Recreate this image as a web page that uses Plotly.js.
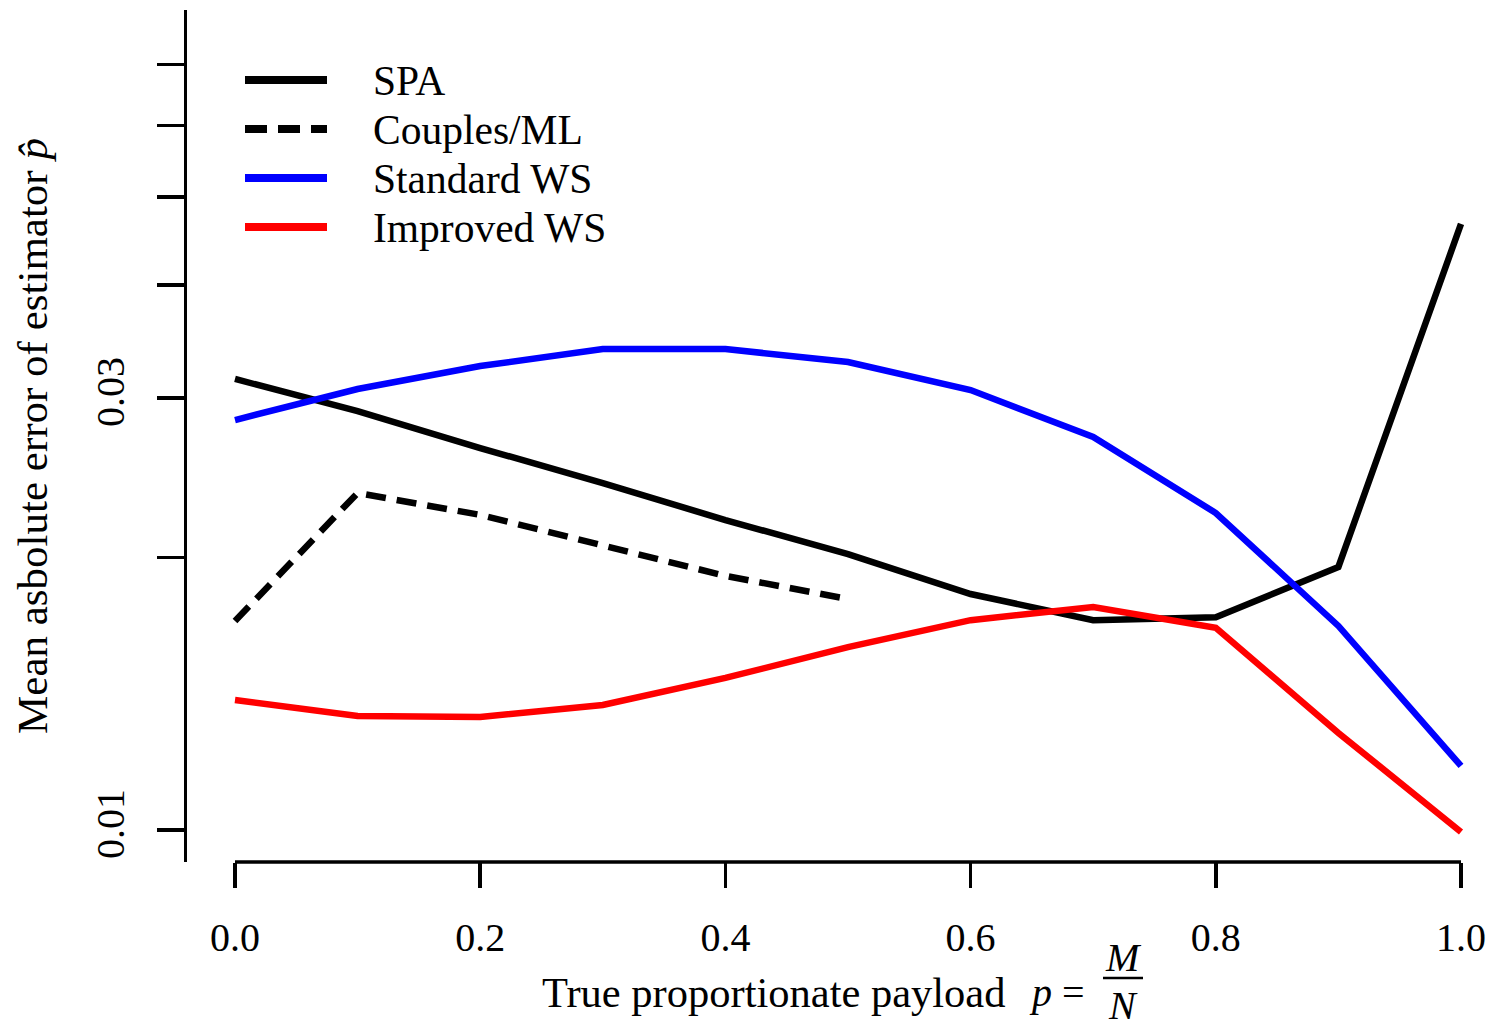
<!DOCTYPE html>
<html>
<head>
<meta charset="utf-8">
<script src="https://cdn.plot.ly/plotly-3.0.1.min.js"></script>
<style>html,body{margin:0;padding:0;background:#fff;}#chart{width:1491px;height:1027px;}</style>
</head>
<body>
<div id="chart"></div>
<script>
// ---- data ----
const payload = [0.0, 0.1, 0.2, 0.3, 0.4, 0.5, 0.6, 0.7, 0.8, 0.9, 1.0];
const payloadCouples = [0.0, 0.1, 0.2, 0.3, 0.4, 0.5];
const spa = [0.03148, 0.02901, 0.02641, 0.02416, 0.02199, 0.02017, 0.01822, 0.01705, 0.01718, 0.01952, 0.04669];
const couplesML = [0.01701, 0.02356, 0.02228, 0.02064, 0.01908, 0.01799];
const standardWS = [0.02836, 0.03069, 0.03253, 0.03397, 0.03397, 0.03287, 0.03061, 0.02716, 0.02239, 0.01680, 0.01177];
const improvedWS = [0.01392, 0.01336, 0.01333, 0.01374, 0.01472, 0.01592, 0.01705, 0.01763, 0.01672, 0.01280, 0.00995];
const seriesNames = ['SPA', 'Couples/ML', 'Standard WS', 'Improved WS'];
const xTickVals = [0.0, 0.2, 0.4, 0.6, 0.8, 1.0];
const xTickText = ['0.0', '0.2', '0.4', '0.6', '0.8', '1.0'];
const yTickVals = [0.01, 0.02, 0.03, 0.04, 0.05, 0.06, 0.07];
const yTickText = ['0.01', '', '0.03', '', '', '', ''];

// ---- styles ----
const FONT = 'Liberation Serif, Times New Roman, serif';
const styles = [
  {color: '#000000', dash: 'solid'},
  {color: '#000000', dash: '20px,11px'},
  {color: '#0000FF', dash: 'solid'},
  {color: '#FF0000', dash: 'solid'}
];
const LW = 6.5;
const seriesX = [payload, payloadCouples, payload, payload];
const seriesY = [spa, couplesML, standardWS, improvedWS];

const traces = seriesNames.map((name, i) => ({
  type: 'scatter', mode: 'lines', name: name,
  x: seriesX[i], y: seriesY[i],
  line: {color: styles[i].color, width: LW, dash: styles[i].dash},
  showlegend: false, hoverinfo: 'skip'
}));

// pixel helpers for layout positioning (plot area: x 187..1491, y 10..862)
const W = 1491, H = 1027, L = 187, R = 0, T = 10, B = 165;
const pw = W - L - R, ph = H - T - B;
const px = (x) => (x - L) / pw;
const py = (y) => (H - B - y) / ph;

const shapes = [
  // detached x axis line between first and last ticks
  {type: 'line', xref: 'x', yref: 'paper', x0: xTickVals[0], x1: xTickVals[xTickVals.length - 1], y0: 0, y1: 0,
   line: {color: '#000', width: 3.5}},
  // fraction bar in x title
  {type: 'line', xref: 'paper', yref: 'paper', x0: px(1103), x1: px(1143), y0: py(978), y1: py(978),
   line: {color: '#000', width: 2.5}}
];
const annotations = [
  {xref: 'paper', yref: 'paper', x: px(1007), y: py(992), xanchor: 'right', yanchor: 'middle', showarrow: false,
   text: 'True proportionate payload', font: {family: FONT, size: 42.5, color: '#000'}},
  {xref: 'paper', yref: 'paper', x: px(1027), y: py(992), xanchor: 'left', yanchor: 'middle', showarrow: false,
   text: '<i>p</i> =', font: {family: FONT, size: 40, color: '#000'}},
  {xref: 'paper', yref: 'paper', x: px(1123), y: py(957), xanchor: 'center', yanchor: 'middle', showarrow: false,
   text: '<i>M</i>', font: {family: FONT, size: 40, color: '#000'}},
  {xref: 'paper', yref: 'paper', x: px(1123), y: py(1005), xanchor: 'center', yanchor: 'middle', showarrow: false,
   text: '<i>N</i>', font: {family: FONT, size: 40, color: '#000'}}
];
// manual legend (long line samples like the reference)
const legendRowsY = [80, 129, 178, 227];
seriesNames.forEach((name, i) => {
  shapes.push({type: 'line', xref: 'paper', yref: 'paper', x0: px(245), x1: px(327), y0: py(legendRowsY[i]), y1: py(legendRowsY[i]),
    line: {color: styles[i].color, width: 8, dash: styles[i].dash === 'solid' ? 'solid' : '22px,11px'}});
  annotations.push({xref: 'paper', yref: 'paper', x: px(371), y: py(legendRowsY[i] + 1), xanchor: 'left', yanchor: 'middle',
    showarrow: false, text: name, font: {family: FONT, size: 41.5, color: '#000'}});
});

const layout = {
  width: W, height: H,
  margin: {l: L, r: R, t: T, b: B, pad: 0},
  paper_bgcolor: '#ffffff', plot_bgcolor: '#ffffff',
  font: {family: FONT, size: 40, color: '#000'},
  showlegend: false,
  xaxis: {
    range: [(187 - 235) / 1226, (1491 - 235) / 1226],
    showgrid: false, zeroline: false, showline: false,
    tickmode: 'array', tickvals: xTickVals, ticktext: xTickText,
    ticks: 'outside', ticklen: 25, tickwidth: 3.5, tickcolor: '#000',
    ticklabelstandoff: 15,
    tickfont: {family: FONT, size: 40, color: '#000'},
    automargin: false, fixedrange: true
  },
  yaxis: {
    type: 'log',
    range: [-2.03534, -1.09452],
    showgrid: false, zeroline: false, showline: true, linecolor: '#000', linewidth: 3.5,
    tickmode: 'array', tickvals: yTickVals, ticktext: yTickText,
    ticks: 'outside', ticklen: 27, tickwidth: 3.5, tickcolor: '#000',
    tickangle: -90, ticklabelstandoff: 17,
    tickfont: {family: FONT, size: 40, color: '#000'},
    title: {text: 'Mean asbolute error of estimator <i>p̂</i>', font: {family: FONT, size: 43, color: '#000'}, standoff: 27},
    automargin: false, fixedrange: true
  },
  shapes: shapes,
  annotations: annotations
};

Plotly.newPlot('chart', traces, layout, {displayModeBar: false, staticPlot: true});
</script>
</body>
</html>
